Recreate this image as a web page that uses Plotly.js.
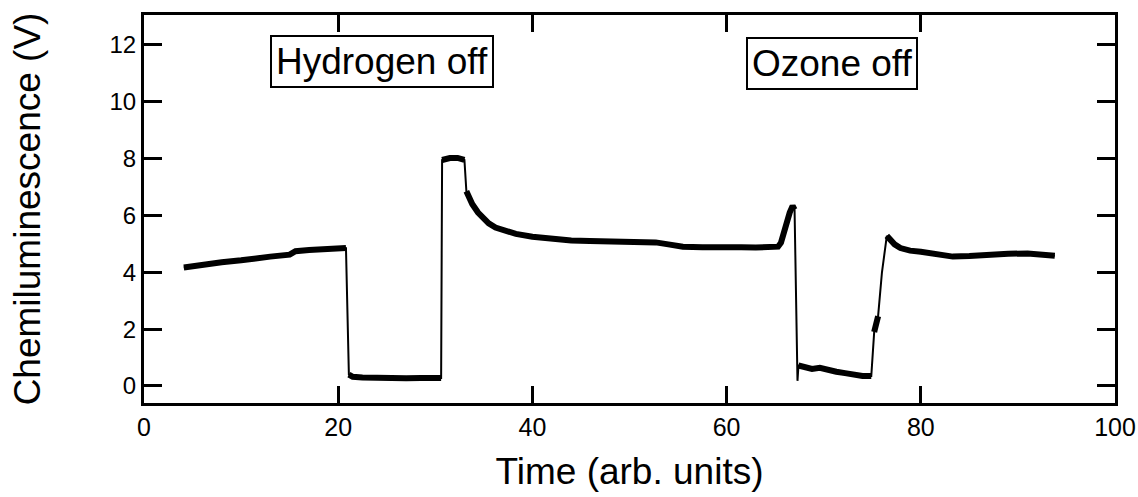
<!DOCTYPE html>
<html>
<head>
<meta charset="utf-8">
<script src="https://cdn.plot.ly/plotly-3.0.1.min.js"></script>
<style>html,body{margin:0;padding:0;background:#fff;}#chart{width:1138px;height:497px;}</style>
</head>
<body>
<div id="chart"></div>
<script>
// Time (arb. units)
var time = [4.1, 5, 6, 8, 10, 11.5, 13, 15, 15.6, 17, 18.5, 20.4, 20.8,
  21.1, 21.5, 22.5, 24, 25.5, 27, 28.5, 30, 30.6,
  30.7, 31.5, 32.3, 33.0, 33.2, 33.8, 34.4, 34.9, 35.5, 36.2, 37.2, 38.3, 40, 41.8, 44, 45.9, 48, 49.3, 51, 52.7, 54, 55.5, 57.5, 59.5, 61.5, 63, 64.4, 65.3, 65.6, 66.1, 66.5, 66.8, 67.0,
  67.3, 67.4, 68, 68.8, 69.6, 70.5, 71.3, 72.2, 73, 74, 74.9,
  75.0, 75.2, 75.4, 75.6, 76.0, 76.5, 76.8, 77.3, 77.9, 78.9, 80, 81.5, 83.3, 85, 87.5, 89, 91, 92.5, 93.8];
// Chemiluminescence (V)
var signal = [4.17, 4.2, 4.25, 4.35, 4.42, 4.5, 4.55, 4.62, 4.74, 4.78, 4.82, 4.87, 4.85,
  0.4, 0.32, 0.3, 0.28, 0.3, 0.27, 0.28, 0.27, 0.28,
  7.95, 8.02, 8.02, 7.95, 6.85, 6.4, 6.1, 5.92, 5.72, 5.57, 5.45, 5.35, 5.25, 5.17, 5.12, 5.1, 5.08, 5.1, 5.08, 5.05, 4.98, 4.9, 4.88, 4.9, 4.88, 4.87, 4.87, 4.9, 5.04, 5.7, 6.1, 6.33, 6.2,
  0.18, 0.72, 0.68, 0.6, 0.64, 0.55, 0.5, 0.45, 0.4, 0.35, 0.35,
  1.0, 1.9, 2.25, 2.45, 4.0, 5.28, 5.15, 4.98, 4.85, 4.76, 4.72, 4.65, 4.55, 4.57, 4.63, 4.65, 4.66, 4.64, 4.58];

var xTicks = [0, 20, 40, 60, 80, 100];
var yTicks = [0, 2, 4, 6, 8, 10, 12];
var labels = ["Hydrogen off", "Ozone off"];
var labelX = [24.5, 70.9];
var labelY = [11.43, 11.34];

// thick trace: break the line at the fast transitions (drawn thin)
var thickX = [], thickY = [];
for (var i = 0; i < time.length; i++) {
  if (i > 0) {
    var slope = Math.abs(signal[i] - signal[i-1]) / (time[i] - time[i-1]);
    if (slope > 2) { thickX.push(null); thickY.push(null); }
  }
  thickX.push(time[i]); thickY.push(signal[i]);
}

var FONT = "Liberation Sans, Arial, Helvetica, sans-serif";

var traces = [
  {x: time, y: signal, mode: "lines", line: {color: "#000", width: 2}, hoverinfo: "skip", showlegend: false},
  {x: thickX, y: thickY, mode: "lines", connectgaps: false, line: {color: "#000", width: 6}, showlegend: false}
];

var annotations = labels.map(function (t, k) {
  return {x: labelX[k], y: labelY[k], xref: "x", yref: "y", text: t, showarrow: false,
    font: {family: FONT, size: 37, color: "#000"}, bordercolor: "#000", borderwidth: 2,
    borderpad: 4, bgcolor: "#fff", xanchor: "center", yanchor: "middle"};
});

var axisCommon = {
  showline: true, linecolor: "#000", linewidth: 3, mirror: "ticks",
  ticks: "inside", tickcolor: "#000", tickwidth: 3,
  showgrid: false, zeroline: false, automargin: false
};

var layout = {
  width: 1138, height: 497,
  margin: {l: 144, r: 23, t: 15, b: 94},
  paper_bgcolor: "#fff", plot_bgcolor: "#fff",
  font: {family: FONT, color: "#000"},
  xaxis: Object.assign({}, axisCommon, {
    range: [0, 100], tickvals: xTicks, ticktext: xTicks.map(String), ticklen: 17,
    tickfont: {family: FONT, size: 25, color: "#000"},
    title: {text: "Time (arb. units)", font: {family: FONT, size: 37, color: "#000"}, standoff: 19}
  }),
  yaxis: Object.assign({}, axisCommon, {
    range: [-0.6, 13.05], tickvals: yTicks, ticktext: yTicks.map(String), ticklen: 18,
    tickfont: {family: FONT, size: 24, color: "#000"},
    title: {text: "Chemiluminescence (V)", font: {family: FONT, size: 37, color: "#000"}, standoff: 58}
  }),
  annotations: annotations,
  showlegend: false
};

Plotly.newPlot("chart", traces, layout, {staticPlot: true, displayModeBar: false});
</script>
</body>
</html>
